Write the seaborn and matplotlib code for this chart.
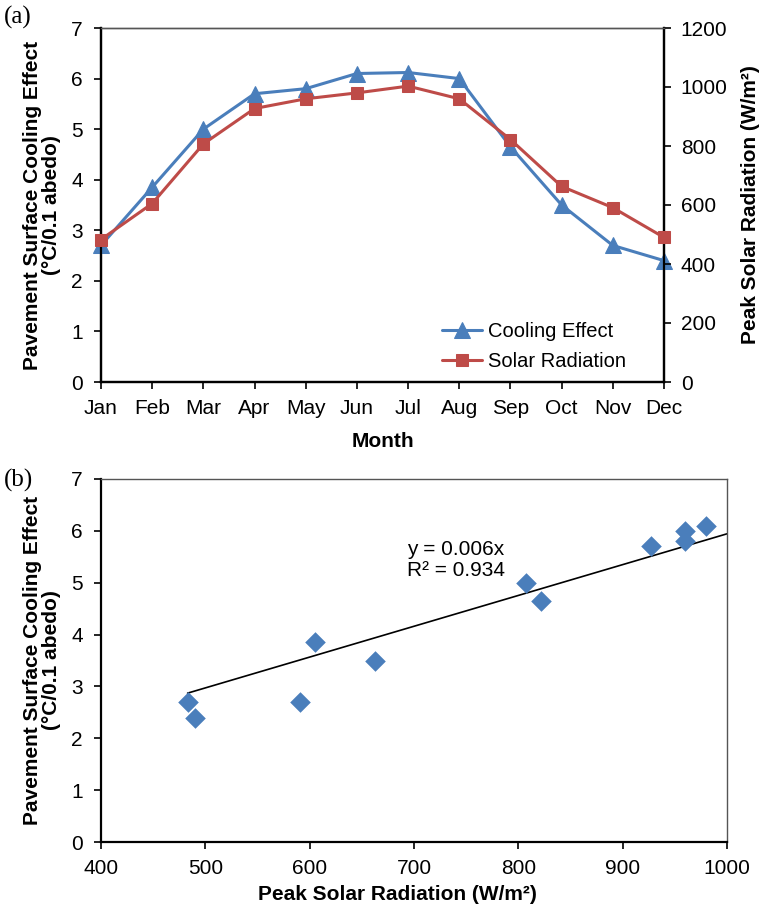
import numpy as np
import pandas as pd
import matplotlib
matplotlib.use("Agg")
import matplotlib.pyplot as plt
import seaborn as sns

months = ["Jan", "Feb", "Mar", "Apr", "May", "Jun", "Jul", "Aug", "Sep", "Oct", "Nov", "Dec"]
cooling = [2.7, 3.85, 5.0, 5.7, 5.8, 6.1, 6.12, 6.0, 4.65, 3.5, 2.7, 2.4]
solar = [483, 605, 807, 927, 960, 980, 1003, 960, 822, 663, 591, 490]
left_ticks = [0, 1, 2, 3, 4, 5, 6, 7]
right_ticks = [0, 200, 400, 600, 800, 1000, 1200]
scatter_xticks = [400, 500, 600, 700, 800, 900, 1000]

sns.set_style("ticks")
plt.rcParams["font.family"] = ["Liberation Sans", "DejaVu Sans"]
plt.rcParams["text.color"] = "black"
plt.rcParams["axes.labelcolor"] = "black"
plt.rcParams["xtick.color"] = "black"
plt.rcParams["ytick.color"] = "black"

BLUE = "#4A7EBB"
RED = "#BE4B48"

fig = plt.figure(figsize=(7.62, 9.09), dpi=100)
ax1 = fig.add_axes([101/762, 1-382/909, (664-101)/762, (382-28)/909])
ax2 = ax1.twinx()
ax3 = fig.add_axes([101/762, 1-842/909, (727-101)/762, (842-479)/909])

df = pd.DataFrame({"idx": np.arange(len(months)), "month": months,
                   "cooling": cooling, "solar": solar})

sns.lineplot(data=df, x="idx", y="cooling", ax=ax1, color=BLUE, lw=2.2,
             marker="^", markersize=11, markeredgecolor=BLUE, label="Cooling Effect",
             legend=False, zorder=3, clip_on=False)
sns.lineplot(data=df, x="idx", y="solar", ax=ax2, color=RED, lw=2.2,
             marker="s", markersize=9, markeredgecolor=RED, label="Solar Radiation",
             legend=False, zorder=3, clip_on=False)

fs_tick = 15
fs_lab = 15

ax1.set_xlim(0, 11)
ax1.set_ylim(0, 7)
ax2.set_ylim(0, 1200)
ax1.set_xticks(df["idx"])
ax1.set_xticklabels(months)
ax1.set_yticks(left_ticks)
ax2.set_yticks(right_ticks)
ax1.set_xlabel("Month", fontsize=fs_lab, fontweight="bold", labelpad=10)
ax1.set_ylabel("Pavement Surface Cooling Effect\n(°C/0.1 abedo)", fontsize=fs_lab,
               fontweight="bold", labelpad=7, linespacing=1.0)
ax2.set_ylabel("Peak Solar Radiation (W/m²)", fontsize=fs_lab, fontweight="bold", labelpad=10)
for a in (ax1, ax2):
    a.tick_params(labelsize=fs_tick, direction="out", length=5, width=1.2, color="black")
ax1.tick_params(axis="x", pad=7)
ax1.tick_params(axis="y", pad=8)
ax2.tick_params(axis="y", pad=7)

for a in (ax1, ax2):
    for s in ["left", "bottom", "right"]:
        a.spines[s].set_color("black")
        a.spines[s].set_linewidth(1.6)
    a.spines["top"].set_color("#555555")
    a.spines["top"].set_linewidth(1.0)
    a.spines["top"].set_visible(True)
    a.spines["right"].set_visible(True)

h1, l1 = ax1.get_legend_handles_labels()
h2, l2 = ax2.get_legend_handles_labels()
ax2.legend(h1 + h2, l1 + l2, loc="lower right", bbox_to_anchor=(0.952, 0.0),
           frameon=False, fontsize=14.5, handlelength=2.0, handletextpad=0.3,
           labelspacing=0.55, borderaxespad=0.15)

fig.text(4/762, 1-17/909, "(a)", fontsize=18, family=["Liberation Serif"], va="center")
fig.text(4/762, 1-480/909, "(b)", fontsize=18, family=["Liberation Serif"], va="center")

# Scatter (points beyond the axis range are hidden, but kept in the fit)
sdf = pd.DataFrame({"solar": solar, "cooling": cooling})
vis = sdf[sdf["solar"] <= scatter_xticks[-1]]
sns.scatterplot(data=vis, x="solar", y="cooling", ax=ax3, marker="D", s=110,
                color=BLUE, edgecolor=BLUE, linewidth=0, zorder=3)
xs = sdf["solar"].to_numpy(dtype=float)
ys = sdf["cooling"].to_numpy(dtype=float)
slope = (xs * ys).sum() / (xs * xs).sum()
xl = np.array([xs.min(), xs.max()])
ax3.plot(xl, slope * xl, color="black", lw=1.2, zorder=2)
ax3.set_xlim(400, 1000)
ax3.set_ylim(0, 7)
ax3.set_xticks(scatter_xticks)
ax3.set_yticks(left_ticks)
ax3.set_xlabel("Peak Solar Radiation (W/m²)", fontsize=fs_lab, fontweight="bold")
ax3.xaxis.set_label_coords(0.474, -0.118)
ax3.set_ylabel("Pavement Surface Cooling Effect\n(°C/0.1 abedo)", fontsize=fs_lab,
               fontweight="bold", labelpad=7, linespacing=1.0)
ax3.tick_params(labelsize=fs_tick, direction="out", length=5, width=1.2, color="black")
ax3.tick_params(axis="y", pad=8)
ax3.tick_params(axis="x", pad=7)
for s in ["left", "bottom"]:
    ax3.spines[s].set_color("black")
    ax3.spines[s].set_linewidth(1.6)
for s in ["top", "right"]:
    ax3.spines[s].set_visible(True)
    ax3.spines[s].set_color("#555555")
    ax3.spines[s].set_linewidth(1.0)
ax3.tick_params(axis="y", right=False)
ax3.text((407-101)/626, (842-560)/363, "y = 0.006x\nR² = 0.934", transform=ax3.transAxes,
         fontsize=15, ha="left", va="center", linespacing=1.1)

fig.savefig("out.png", dpi=100)
